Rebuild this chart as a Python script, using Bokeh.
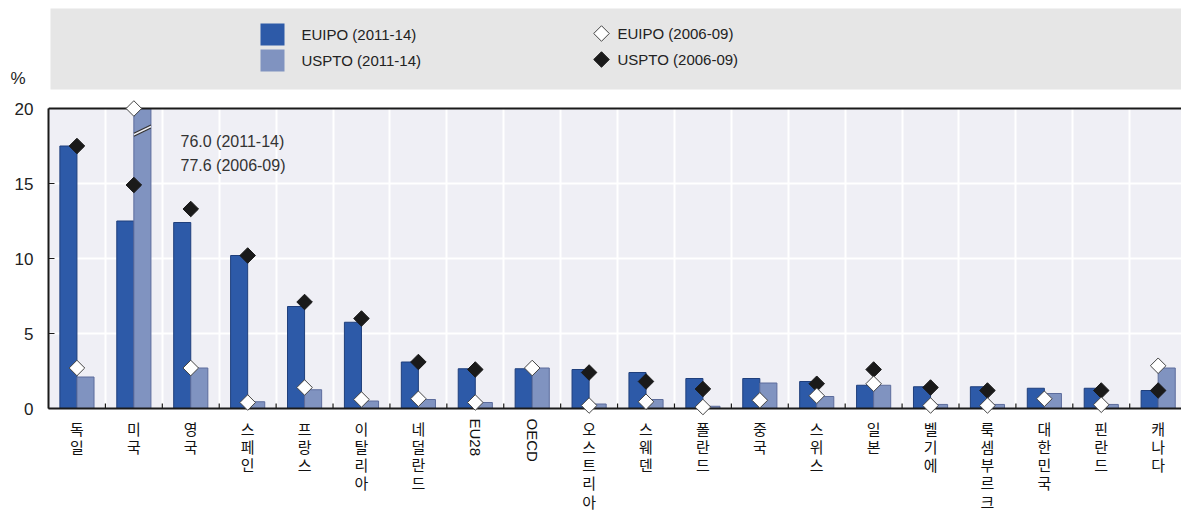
import numpy as np
from bokeh.plotting import figure
from bokeh.models import Range1d, FixedTicker, Span
from bokeh.layouts import column
from bokeh.embed import file_html
from bokeh.resources import INLINE
from bokeh.core.properties import value

# ---------------- data ----------------
categories = ["독일", "미국", "영국", "스페인", "프랑스", "이탈리아", "네덜란드", "EU28", "OECD",
              "오스트리아", "스웨덴", "폴란드", "중국", "스위스", "일본", "벨기에", "룩셈부르크",
              "대한민국", "핀란드", "캐나다"]
euipo_2011_14 = [17.5, 12.5, 12.4, 10.2, 6.8, 5.75, 3.1, 2.65, 2.65, 2.6, 2.4, 2.0, 2.0, 1.8,
                 1.55, 1.45, 1.45, 1.35, 1.35, 1.2]
uspto_2011_14 = [2.1, 76.0, 2.7, 0.45, 1.25, 0.5, 0.6, 0.4, 2.7, 0.3, 0.6, 0.15, 1.7, 0.8,
                 1.55, 0.27, 0.27, 1.0, 0.27, 2.7]
euipo_2006_09 = [2.7, 77.6, 2.7, 0.4, 1.4, 0.6, 0.65, 0.4, 2.7, 0.2, 0.45, 0.1, 0.55, 0.85,
                 1.65, 0.2, 0.2, 0.65, 0.25, 2.85]
uspto_2006_09 = [17.5, 14.9, 13.3, 10.2, 7.1, 6.0, 3.1, 2.6, np.nan, 2.4, 1.8, 1.3, np.nan, 1.65,
                 2.6, 1.4, 1.2, np.nan, 1.2, 1.2]
legend_labels = ["EUIPO (2011-14)", "USPTO (2011-14)", "EUIPO (2006-09)", "USPTO (2006-09)"]
y_ticks = [0, 5, 10, 15, 20]
y_unit = "%"

# ---------------- style ----------------
C_EU = "#2D5AA8"
C_US = "#8093C0"
C_EU_LINE = "#1F3F7C"
C_US_LINE = "#5C6C9C"
PLOT_BG = "#EFEFF5"
BAND_BG = "#E6E6E6"
TXT = "#222222"
FONT = "Liberation Sans"
KFONT = "Noto Sans CJK KR"
W = 1181
LEFT = 48
YMAX = y_ticks[-1]

n = len(categories)
xc = np.arange(n) + 0.5
bw = 0.3

# ---------------- top legend band (data units = page pixels) ----------------
top = figure(width=W, height=100, x_range=Range1d(LEFT, W), y_range=Range1d(-100, 0),
             output_backend="svg", toolbar_location=None,
             min_border_left=LEFT, min_border_right=0, min_border_top=0, min_border_bottom=0)
top.xaxis.visible = False
top.grid.visible = False
top.outline_line_color = None
top.background_fill_color = "white"
top.border_fill_color = "white"
top.quad(left=50, right=W, top=-8, bottom=-89, fill_color=BAND_BG, line_color=None)
top.rect(x=[272, 272], y=[-34, -60], width=24, height=22,
         fill_color=[C_EU, C_US], line_color=None)
top.scatter(x=[601, 601], y=[-33, -59], marker="square", size=11, angle=np.pi / 4,
            fill_color=["white", "#1a1a1a"], line_color=["#444444", "#1a1a1a"], line_width=1)
top.text(x=[301, 301, 617, 617], y=[-34, -60, -33, -59], text=legend_labels,
         text_font=value(FONT), text_font_size="15px", text_color=TXT,
         text_align="left", text_baseline="middle")
# unit label "%" as the top figure's y-axis tick label
top.yaxis.ticker = FixedTicker(ticks=[-78])
top.yaxis.major_label_overrides = {-78: y_unit}
top.yaxis.axis_line_color = None
top.yaxis.major_tick_line_color = None
top.yaxis.minor_tick_line_color = None
top.yaxis.major_label_standoff = 17
top.yaxis.major_label_text_font = FONT
top.yaxis.major_label_text_font_size = "17px"
top.yaxis.major_label_text_color = TXT

# ---------------- main chart ----------------
p = figure(width=W, height=317, x_range=Range1d(0, 19.91), y_range=Range1d(0, YMAX + 8 / 15),
           output_backend="svg", toolbar_location=None,
           min_border_left=LEFT, min_border_right=0, min_border_top=0, min_border_bottom=9)
p.background_fill_color = "white"
p.border_fill_color = "white"
p.outline_line_color = None

p.quad(left=0, right=n, bottom=0, top=YMAX, fill_color=PLOT_BG, line_color=None, level="image")

eu_bar = np.minimum(np.array(euipo_2011_14), YMAX)
us_bar = np.minimum(np.array(uspto_2011_14), YMAX)
p.vbar(x=xc - bw / 2, width=bw, bottom=0, top=eu_bar, fill_color=C_EU,
       line_color=C_EU_LINE, line_width=1)
p.vbar(x=xc + bw / 2, width=bw, bottom=0, top=us_bar, fill_color=C_US,
       line_color=C_US_LINE, line_width=1)

# inner tick marks at category boundaries
bounds = np.arange(1, n + 1)
p.segment(x0=bounds, y0=0, x1=bounds, y1=0.33, line_color="#1a1a1a", line_width=1.2)

# break marks on clipped bars + annotation
for i, v in enumerate(uspto_2011_14):
    if v > YMAX:
        x0, x1 = i + 0.5, i + 0.5 + bw
        yb = YMAX - 1.85
        p.patch(x=[x0, x1, x1, x0], y=[yb, yb + 0.55, yb + 0.75, yb + 0.2],
                fill_color=PLOT_BG, line_color=None)
        p.segment(x0=[x0, x0], y0=[yb, yb + 0.2], x1=[x1, x1], y1=[yb + 0.55, yb + 0.75],
                  line_color="#333333", line_width=1.3)
        p.text(x=[2.32, 2.32], y=[17.8, 16.2],
               text=[f"{v:.1f} (2011-14)", f"{euipo_2006_09[i]:.1f} (2006-09)"],
               text_font=value(FONT), text_font_size="16px", text_color="#333333",
               text_align="left", text_baseline="middle")

p.add_layout(Span(location=YMAX, dimension="width", line_color="#1a1a1a", line_width=2))

black = p.scatter(x=xc, y=np.minimum(np.array(uspto_2006_09), YMAX), marker="square", size=11,
                  angle=np.pi / 4, fill_color="#1a1a1a", line_color="#1a1a1a", line_width=1)
black.level = "overlay"
white = p.scatter(x=xc, y=np.minimum(np.array(euipo_2006_09), YMAX), marker="square", size=11,
                  angle=np.pi / 4, fill_color="white", line_color="#444444", line_width=1)
white.level = "overlay"

p.yaxis.ticker = FixedTicker(ticks=y_ticks)
p.yaxis.bounds = (0, YMAX)
p.yaxis.major_tick_in = 6
p.yaxis.major_tick_out = 0
p.yaxis.minor_tick_line_color = None
p.yaxis.axis_line_width = 2
p.yaxis.axis_line_color = "#1a1a1a"
p.yaxis.major_tick_line_color = "#1a1a1a"
p.yaxis.major_label_standoff = 15
p.yaxis.major_label_text_font = FONT
p.yaxis.major_label_text_font_size = "17px"
p.yaxis.major_label_text_color = TXT

p.xaxis.ticker = FixedTicker(ticks=[])
p.xaxis.minor_tick_line_color = None
p.xaxis.major_tick_line_color = None
p.xaxis.axis_line_width = 2
p.xaxis.axis_line_color = "#1a1a1a"

p.xgrid.ticker = FixedTicker(ticks=list(range(1, n)))
p.xgrid.grid_line_color = "white"
p.xgrid.grid_line_width = 2
p.ygrid.ticker = FixedTicker(ticks=y_ticks[1:-1])
p.ygrid.grid_line_color = "white"
p.ygrid.grid_line_width = 2

# ---------------- category labels ----------------
BH = 518 - 100 - 317
bot = figure(width=W, height=BH, x_range=p.x_range, y_range=Range1d(-BH, 0),
             output_backend="svg", toolbar_location=None,
             min_border_left=LEFT, min_border_right=0, min_border_top=0, min_border_bottom=0)
bot.axis.visible = False
bot.grid.visible = False
bot.outline_line_color = None
bot.background_fill_color = "white"
bot.border_fill_color = "white"

k_x, k_t, l_x, l_t = [], [], [], []
for i, c in enumerate(categories):
    if c.isascii():
        l_x.append(xc[i]); l_t.append(c)
    else:
        k_x.append(xc[i]); k_t.append("\n".join(c))
bot.text(x=k_x, y=[0] * len(k_x), text=k_t, text_font=value(KFONT), text_font_size="15px",
         text_line_height=0.87, text_color="#111111", text_align="center", text_baseline="top")
bot.text(x=l_x, y=[-1] * len(l_x), text=l_t, angle=-np.pi / 2, text_font=value(FONT),
         text_font_size="15px", text_color="#111111", text_align="left", text_baseline="middle")

layout = column(top, p, bot, spacing=0)
open("out.html", "w").write(file_html(layout, INLINE))
